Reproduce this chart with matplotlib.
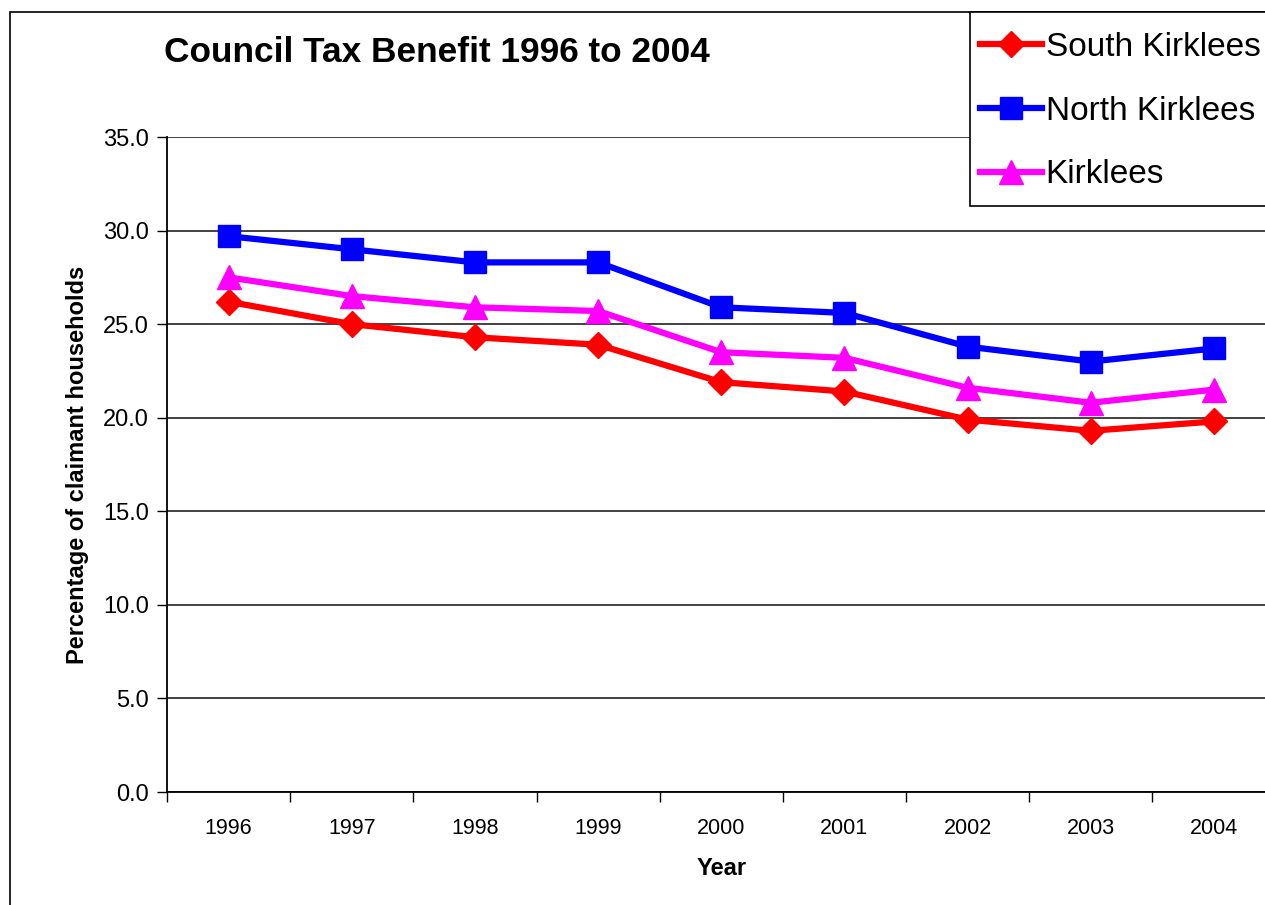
import matplotlib
matplotlib.use("Agg")
import matplotlib.pyplot as plt
from matplotlib.patches import Rectangle

years = ["1996", "1997", "1998", "1999", "2000", "2001", "2002", "2003", "2004"]
south = [26.2, 25.0, 24.3, 23.9, 21.9, 21.4, 19.9, 19.3, 19.8]
north = [29.7, 29.0, 28.3, 28.3, 25.9, 25.6, 23.8, 23.0, 23.7]
kirklees = [27.5, 26.5, 25.9, 25.7, 23.5, 23.2, 21.6, 20.8, 21.5]
yticks = [0, 5, 10, 15, 20, 25, 30, 35]

plt.rcParams['font.family'] = ['Liberation Sans', 'DejaVu Sans']

W, H = 1265, 905
fig = plt.figure(figsize=(W / 100, H / 100), dpi=100)
ax = fig.add_axes([167 / W, 1 - 792 / H, (1275.5 - 167) / W, (792 - 137) / H])

x = list(range(len(years)))
lw = 4.5
ax.plot(x, south, color='#ff0000', lw=lw, marker='D', ms=13.5, mec='#ff0000', mfc='#ff0000',
        label='South Kirklees', zorder=3)
ax.plot(x, north, color='#0000ff', lw=lw, marker='s', ms=16, mec='#0000ff', mfc='#0000ff',
        label='North Kirklees', zorder=3)
ax.plot(x, kirklees, color='#ff00ff', lw=lw, marker='^', ms=17, mec='#ff00ff', mfc='#ff00ff',
        label='Kirklees', zorder=3)

ax.set_xlim(-0.5, len(years) - 0.5)
ax.set_ylim(0, 35)
ax.set_yticks(yticks)
ax.set_yticklabels([f"{v:.1f}" for v in yticks], fontsize=17)
ax.yaxis.grid(True, color='#333333', lw=1.3)
ax.set_axisbelow(True)

ax.set_xticks([i - 0.5 for i in range(len(years) + 1)])
ax.set_xticklabels([])
ax.set_xticks(x, minor=True)
ax.set_xticklabels(years, minor=True, fontsize=15.5)
ax.tick_params(axis='x', which='major', length=7, width=1, direction='out')
ax.tick_params(axis='x', which='minor', length=0, pad=19)
ax.tick_params(axis='y', length=7, width=1, direction='out', pad=6)

for s in ['top', 'right']:
    ax.spines[s].set_visible(False)
for s in ['left', 'bottom']:
    ax.spines[s].set_linewidth(1.3)
    ax.spines[s].set_color('black')

ax.set_xlabel('Year', fontsize=17, fontweight='bold', labelpad=13)
ax.set_ylabel('Percentage of claimant households', fontsize=17, fontweight='bold', labelpad=10)

fig.text(164 / W, 1 - 53 / H, 'Council Tax Benefit 1996 to 2004', fontsize=25.4, fontweight='bold',
         ha='left', va='center')

# outer frame
fig.patches.append(Rectangle((10 / W, -0.1), 1.2, 1 - 12 / H + 0.1, transform=fig.transFigure,
                             fill=False, edgecolor='black', lw=1.2, zorder=0))

# legend frame (extends past the right edge, as in the reference)
fig.patches.append(Rectangle((970 / W, 1 - 206 / H), 0.5, (206 - 12) / H, transform=fig.transFigure,
                             facecolor='white', edgecolor='black', lw=1.2, zorder=4))

leg = fig.legend(loc='upper left', bbox_to_anchor=(960 / W, 1 - 12 / H), borderaxespad=0,
                 fontsize=24, frameon=False,
                 handlelength=1.85, handletextpad=0.12, labelspacing=0.98, borderpad=0.6,
                 markerscale=1.0)
leg.set_zorder(5)

fig.savefig('out.png', dpi=100)
